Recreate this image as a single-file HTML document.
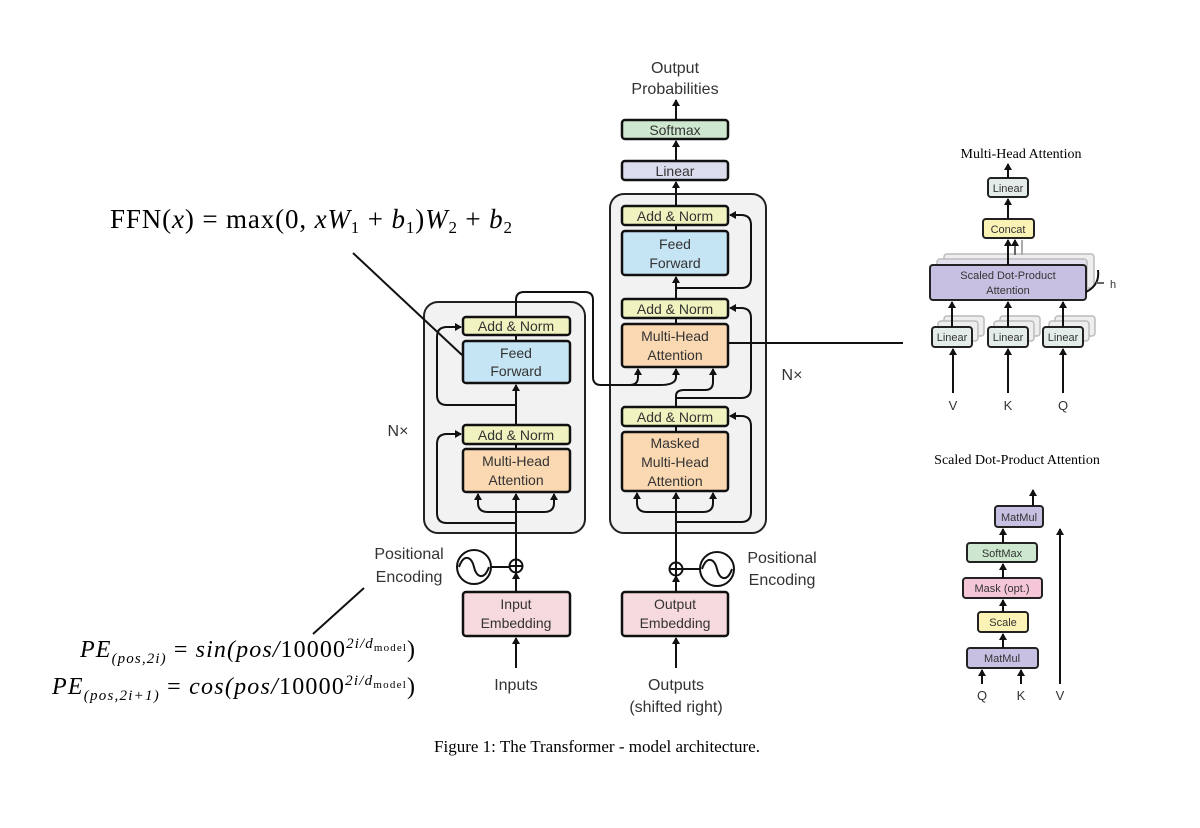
<!DOCTYPE html>
<html><head><meta charset="utf-8"><style>
body{margin:0;background:#fff}
svg{display:block}
.s{font-family:"Liberation Sans",sans-serif;fill:#333}
.r{font-family:"Liberation Serif",serif;fill:#000}
.b{stroke:#111;stroke-width:2.5}
.l{stroke:#111;stroke-width:2;fill:none}
</style></head><body>
<svg width="1200" height="828" viewBox="0 0 1200 828" xmlns="http://www.w3.org/2000/svg">
<defs>
<marker id="a" markerWidth="8" markerHeight="8" refX="6" refY="4" orient="auto" markerUnits="userSpaceOnUse"><path d="M0,0 L7,4 L0,8 z" fill="#111"/></marker>
</defs>
<rect width="1200" height="828" fill="#fff"/>
<rect x="424" y="302" width="161" height="231" rx="14" fill="#f2f2f2" stroke="#222" stroke-width="2"/>
<rect x="610" y="194" width="156" height="339" rx="14" fill="#f2f2f2" stroke="#222" stroke-width="2"/>
<g class="b">
<rect x="463" y="317" width="107" height="18" rx="3" fill="#f0f3bf"/>
<rect x="463" y="341" width="107" height="42" rx="3" fill="#c5e4f4"/>
<rect x="463" y="425" width="107" height="19" rx="3" fill="#f0f3bf"/>
<rect x="463" y="449" width="107" height="43" rx="3" fill="#fad8b2"/>
<rect x="463" y="592" width="107" height="44" rx="3" fill="#f7dadd"/>
<rect x="622" y="206" width="106" height="19" rx="3" fill="#f0f3bf"/>
<rect x="622" y="231" width="106" height="44" rx="3" fill="#c5e4f4"/>
<rect x="622" y="299" width="106" height="19" rx="3" fill="#f0f3bf"/>
<rect x="622" y="324" width="106" height="43" rx="3" fill="#fad8b2"/>
<rect x="622" y="407" width="106" height="19" rx="3" fill="#f0f3bf"/>
<rect x="622" y="432" width="106" height="59" rx="3" fill="#fad8b2"/>
<rect x="622" y="592" width="106" height="44" rx="3" fill="#f7dadd"/>
<rect x="622" y="161" width="106" height="19" rx="3" fill="#dcdcef"/>
<rect x="622" y="120" width="106" height="19" rx="3" fill="#cde8cf"/>
</g>
<g class="s" font-size="14" text-anchor="middle">
<text x="516" y="331">Add &amp; Norm</text>
<text x="516" y="358">Feed</text><text x="516" y="376">Forward</text>
<text x="516" y="440">Add &amp; Norm</text>
<text x="516" y="466">Multi-Head</text><text x="516" y="485">Attention</text>
<text x="516" y="609">Input</text><text x="516" y="628">Embedding</text>
<text x="675" y="221">Add &amp; Norm</text>
<text x="675" y="249">Feed</text><text x="675" y="268">Forward</text>
<text x="675" y="314">Add &amp; Norm</text>
<text x="675" y="341">Multi-Head</text><text x="675" y="360">Attention</text>
<text x="675" y="422">Add &amp; Norm</text>
<text x="675" y="448">Masked</text><text x="675" y="467">Multi-Head</text><text x="675" y="486">Attention</text>
<text x="675" y="609">Output</text><text x="675" y="628">Embedding</text>
<text x="675" y="176">Linear</text>
<text x="675" y="135">Softmax</text>
<text x="675" y="73" font-size="16">Output</text><text x="675" y="94" font-size="16">Probabilities</text>
<text x="516" y="690" font-size="16">Inputs</text>
<text x="676" y="690" font-size="16">Outputs</text><text x="676" y="712" font-size="16">(shifted right)</text>
<text x="398" y="436" font-size="16">N×</text>
<text x="792" y="380" font-size="16">N×</text>
<text x="409" y="559" font-size="16">Positional</text><text x="409" y="582" font-size="16">Encoding</text>
<text x="782" y="563" font-size="16">Positional</text><text x="782" y="585" font-size="16">Encoding</text>
</g>
<g class="l">
<path d="M516,668 V638" marker-end="url(#a)"/>
<path d="M516,592 V573" marker-end="url(#a)"/>
<path d="M516,560 V494" marker-end="url(#a)"/>
<path d="M478,503 Q478,512 488,512 H544 Q554,512 554,503 V494" />
<path d="M478,503 V494" marker-end="url(#a)"/><path d="M554,503 V494" marker-end="url(#a)"/>
<path d="M516,523 H447 Q437,523 437,513 V444 Q437,434 447,434 H461" marker-end="url(#a)"/>
<path d="M516,449 V444"/>
<path d="M516,425 V385" marker-end="url(#a)"/>
<path d="M516,405 H447 Q437,405 437,395 V337 Q437,327 447,327 H461" marker-end="url(#a)"/>
<path d="M516,341 V335"/>
<path d="M516,317 V300 Q516,292 524,292 H585 Q593,292 593,300 V377 Q593,385 601,385 H630 Q638,385 638,377 V369" marker-end="url(#a)"/>
<path d="M660,385 Q676,385 676,377 V369" marker-end="url(#a)"/>
<path d="M630,385 H660"/>
<circle cx="516" cy="566" r="6.5" fill="#fff"/><path d="M509.5,566 H522.5 M516,559.5 V572.5"/>
<circle cx="474" cy="567" r="17" fill="#fff"/><path d="M459,567 C464,553 472,557 474,567 C476,577 484,581 489,567"/>
<path d="M491,567 H509.5"/>
<path d="M676,668 V638" marker-end="url(#a)"/>
<path d="M676,592 V576" marker-end="url(#a)"/>
<path d="M676,562 V493" marker-end="url(#a)"/>
<path d="M637,503 Q637,512 647,512 H703 Q713,512 713,503"/>
<path d="M637,503 V493" marker-end="url(#a)"/><path d="M713,503 V493" marker-end="url(#a)"/>
<path d="M676,522 H741 Q751,522 751,512 V426 Q751,416 741,416 H730" marker-end="url(#a)"/>
<path d="M676,432 V426"/>
<path d="M676,407 V396 Q676,390 684,390 H705 Q713,390 713,382 V369" marker-end="url(#a)"/>
<path d="M676,398 H741 Q751,398 751,388 V318 Q751,308 741,308 H730" marker-end="url(#a)"/>
<path d="M676,324 V318"/>
<path d="M676,299 V277" marker-end="url(#a)"/>
<path d="M676,288 H741 Q751,288 751,278 V225 Q751,215 741,215 H730" marker-end="url(#a)"/>
<path d="M676,231 V225"/>
<path d="M676,206 V182" marker-end="url(#a)"/>
<path d="M676,161 V141" marker-end="url(#a)"/>
<path d="M676,120 V100" marker-end="url(#a)"/>
<circle cx="676" cy="569" r="6.5" fill="#fff"/><path d="M669.5,569 H682.5 M676,562.5 V575.5"/>
<circle cx="717" cy="569" r="17" fill="#fff"/><path d="M702,569 C707,555 715,559 717,569 C719,579 727,583 732,569"/>
<path d="M682.5,569 H700"/>
<path d="M353,253 L462,355"/>
<path d="M313,634 L364,588"/>
<path d="M728,343 H903"/>
</g>
<text class="r" x="110" y="228" font-size="27" textLength="402" lengthAdjust="spacing">FFN(<tspan font-style="italic">x</tspan>) = max(0, <tspan font-style="italic">xW</tspan><tspan font-size="17" dy="5">1</tspan><tspan dy="-5"> + </tspan><tspan font-style="italic">b</tspan><tspan font-size="17" dy="5">1</tspan><tspan dy="-5">)</tspan><tspan font-style="italic">W</tspan><tspan font-size="17" dy="5">2</tspan><tspan dy="-5"> + </tspan><tspan font-style="italic">b</tspan><tspan font-size="17" dy="5">2</tspan></text>
<text class="r" x="80" y="657" font-size="24" font-style="italic" textLength="335" lengthAdjust="spacing">PE<tspan font-size="15" dy="6">(pos,2i)</tspan><tspan dy="-6" font-style="normal"> = </tspan>sin(pos/<tspan font-style="normal">10000</tspan><tspan font-size="15" dy="-9">2i/d</tspan><tspan font-size="11" font-style="normal" dy="3">model</tspan><tspan dy="6" font-style="normal">)</tspan></text>
<text class="r" x="52" y="694" font-size="24" font-style="italic" textLength="363" lengthAdjust="spacing">PE<tspan font-size="15" dy="6">(pos,2i+1)</tspan><tspan dy="-6" font-style="normal"> = </tspan>cos(pos/<tspan font-style="normal">10000</tspan><tspan font-size="15" dy="-9">2i/d</tspan><tspan font-size="11" font-style="normal" dy="3">model</tspan><tspan dy="6" font-style="normal">)</tspan></text>
<text class="r" x="597" y="752" font-size="17" text-anchor="middle">Figure 1: The Transformer - model architecture.</text>
<text class="r" x="1021" y="158" font-size="14" text-anchor="middle">Multi-Head Attention</text>
<g fill="none" stroke="#bbb" stroke-width="1.5">
<rect x="944" y="254" width="150" height="34" rx="3" fill="#eee"/>
<rect x="937" y="259" width="150" height="34" rx="3" fill="#e4e0f0"/>
<rect x="944" y="316" width="40" height="20" rx="3" fill="#eee"/><rect x="938" y="321" width="40" height="20" rx="3" fill="#eee"/>
<rect x="1000" y="316" width="40" height="20" rx="3" fill="#eee"/><rect x="994" y="321" width="40" height="20" rx="3" fill="#eee"/>
<rect x="1055" y="316" width="40" height="20" rx="3" fill="#eee"/><rect x="1049" y="321" width="40" height="20" rx="3" fill="#eee"/>
</g>
<g stroke="#222" stroke-width="2">
<rect x="988" y="178" width="40" height="19" rx="3" fill="#e3ece8"/>
<rect x="983" y="219" width="51" height="19" rx="3" fill="#fbf2b6"/>
<rect x="930" y="265" width="156" height="35" rx="3" fill="#c8c0e2"/>
<rect x="932" y="327" width="40" height="20" rx="3" fill="#e3ece8"/>
<rect x="988" y="327" width="40" height="20" rx="3" fill="#e3ece8"/>
<rect x="1043" y="327" width="40" height="20" rx="3" fill="#e3ece8"/>
</g>
<g class="l" stroke-width="1.5">
<path d="M1008,178 V164" marker-end="url(#a)"/>
<path d="M1008,219 V199" marker-end="url(#a)"/>
<path d="M1008,265 V240" marker-end="url(#a)"/>
<path d="M1015,255 V240" stroke="#666" marker-end="url(#a)"/>
<path d="M1022,255 V240" stroke="#aaa"/>
<path d="M952,327 V302" marker-end="url(#a)"/>
<path d="M1008,327 V302" marker-end="url(#a)"/>
<path d="M1063,327 V302" marker-end="url(#a)"/>
<path d="M953,393 V349" marker-end="url(#a)"/>
<path d="M1008,393 V349" marker-end="url(#a)"/>
<path d="M1063,393 V349" marker-end="url(#a)"/>
<path d="M1098,270 Q1100,285 1086,292"/>
<path d="M1096,283 H1104" stroke="#666"/>
</g>
<g class="s" font-size="11" text-anchor="middle">
<text x="1008" y="192">Linear</text>
<text x="1008" y="233">Concat</text>
<text x="1008" y="279">Scaled Dot-Product</text><text x="1008" y="294">Attention</text>
<text x="952" y="341">Linear</text><text x="1008" y="341">Linear</text><text x="1063" y="341">Linear</text>
<text x="1113" y="288">h</text>
<text x="953" y="410" font-size="13">V</text><text x="1008" y="410" font-size="13">K</text><text x="1063" y="410" font-size="13">Q</text>
</g>
<text class="r" x="1017" y="464" font-size="14" text-anchor="middle">Scaled Dot-Product Attention</text>
<g stroke="#222" stroke-width="2">
<rect x="995" y="506" width="48" height="21" rx="3" fill="#c8c0e2"/>
<rect x="967" y="543" width="70" height="19" rx="3" fill="#cde8cf"/>
<rect x="963" y="578" width="79" height="20" rx="3" fill="#f4c6d8"/>
<rect x="978" y="612" width="50" height="20" rx="3" fill="#fbf2b6"/>
<rect x="967" y="648" width="71" height="20" rx="3" fill="#c8c0e2"/>
</g>
<g class="l" stroke-width="1.5">
<path d="M1033,506 V490" marker-end="url(#a)"/>
<path d="M1003,543 V529" marker-end="url(#a)"/>
<path d="M1003,578 V564" marker-end="url(#a)"/>
<path d="M1003,612 V600" marker-end="url(#a)"/>
<path d="M1003,648 V634" marker-end="url(#a)"/>
<path d="M982,684 V670" marker-end="url(#a)"/>
<path d="M1021,684 V670" marker-end="url(#a)"/>
<path d="M1060,684 V529" marker-end="url(#a)"/>
</g>
<g class="s" font-size="11" text-anchor="middle">
<text x="1019" y="521">MatMul</text>
<text x="1002" y="557">SoftMax</text>
<text x="1002" y="592">Mask (opt.)</text>
<text x="1003" y="626">Scale</text>
<text x="1002" y="662">MatMul</text>
<text x="982" y="700" font-size="13">Q</text><text x="1021" y="700" font-size="13">K</text><text x="1060" y="700" font-size="13">V</text>
</g>
</svg>
</body></html>
